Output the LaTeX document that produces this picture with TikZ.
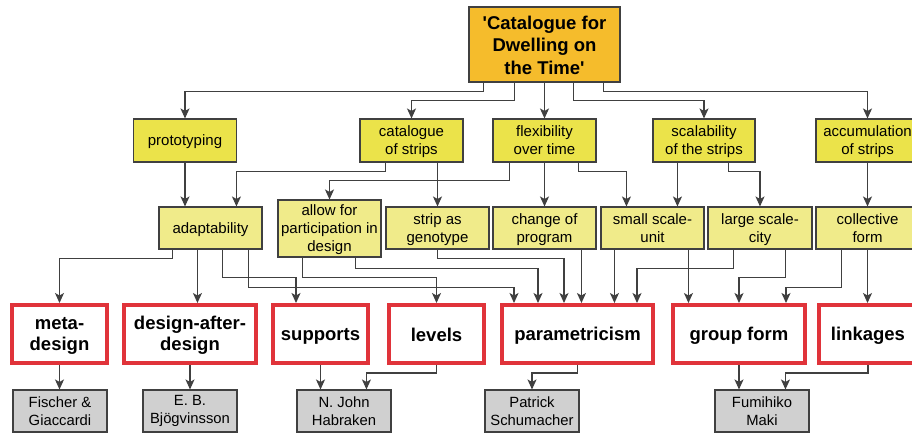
\documentclass[tikz,border=0pt]{standalone}
\usepackage{fontspec}
\setmainfont{Liberation Sans}[Ligatures=TeXOff]
\usetikzlibrary{arrows.meta}
\definecolor{rootfill}{HTML}{F5BC2C}
\definecolor{yelA}{HTML}{EBE34A}
\definecolor{yelB}{HTML}{F0EB8A}
\definecolor{redline}{HTML}{E0333A}
\definecolor{greyfill}{HTML}{D0D0D0}
\definecolor{edge}{HTML}{404040}
% fixed line metrics so that text sits in the box by font ascent/descent
\newcommand{\descdepth}{0.2em}
\newcommand{\ascstrut}{\rule{0pt}{0.905em}}
\newcommand{\descstrut}{\rule[-\descdepth]{0pt}{\descdepth}}
\begin{document}
\begin{tikzpicture}[x=1pt,y=-1pt,
  box/.style={draw=edge,line width=1.1pt,inner sep=0pt,align=center,anchor=center},
  rootbox/.style={box,fill=rootfill,minimum width=151pt,minimum height=75pt,
    font=\fontsize{18.5}{22.3}\selectfont\bfseries\renewcommand{\descdepth}{0.105em}},
  topic/.style={box,fill=yelA,minimum width=103pt,minimum height=43pt,
    font=\fontsize{15}{18}\selectfont},
  subtopic/.style={box,fill=yelB,minimum width=103pt,minimum height=42pt,
    font=\fontsize{15}{18}\selectfont},
  concept/.style={draw=redline,line width=4pt,fill=white,inner sep=0pt,align=center,
    minimum height=58pt,
    font=\fontsize{18.5}{21}\selectfont\bfseries\renewcommand{\descdepth}{0.105em}},
  author/.style={box,fill=greyfill,minimum width=94pt,minimum height=42pt,
    font=\fontsize{14.8}{17.7}\selectfont},
  arr/.style={draw=edge,line width=1.1pt,-{Stealth[length=10pt,width=9pt,inset=2.5pt]}}]
\useasboundingbox[fill=white] (0,0) rectangle (912,437);

% root
\node[rootbox] (root) at (544.5,44.5) {\ascstrut'Catalogue for\\Dwelling on\\the Time'\descstrut};

% first level
\node[topic] (proto) at (185,140.5) {\ascstrut prototyping\descstrut};
\node[topic] (cat)   at (411.5,140.5) {\ascstrut catalogue\\of strips\descstrut};
\node[topic] (flex)  at (544.5,140.5) {\ascstrut flexibility\\over time\descstrut};
\node[topic,minimum width=102pt] (scal) at (704,140.5) {\ascstrut scalability\\of the strips\descstrut};
\node[topic] (accum) at (867.5,140.5) {\ascstrut accumulation\\of strips\descstrut};

% second level
\node[subtopic] (adapt)  at (210.5,228) {\ascstrut adaptability\descstrut};
\node[subtopic,minimum height=57pt] (allow) at (329.5,228.5) {\ascstrut allow for\\participation in\\design\descstrut};
\node[subtopic] (strip)  at (437.5,228) {\ascstrut strip as\\genotype\descstrut};
\node[subtopic] (change) at (544.5,228) {\ascstrut change of\\program\descstrut};
\node[subtopic] (small)  at (652.5,228) {\ascstrut small scale-\\unit\descstrut};
\node[subtopic,minimum width=104pt] (large) at (760,228) {\ascstrut large scale-\\city\descstrut};
\node[subtopic] (coll)   at (867.5,228) {\ascstrut collective\\form\descstrut};

% concepts
\node[concept,minimum width=95pt]  (meta)   at (59.5,334)  {\ascstrut meta-\\design\descstrut};
\node[concept,minimum width=132pt] (dad)    at (190,334)   {\ascstrut design-after-\\design\descstrut};
\node[concept,minimum width=95pt]  (supp)   at (320.5,334) {\ascstrut supports\descstrut};
\node[concept,minimum width=95pt]  (levels) at (436.5,334) {\ascstrut levels\descstrut};
\node[concept,minimum width=151pt] (param)  at (577.5,334) {\ascstrut parametricism\descstrut};
\node[concept,minimum width=132pt] (group)  at (739,334)   {\ascstrut group form\descstrut};
\node[concept,minimum width=98pt]  (link)   at (868,334)   {\ascstrut linkages\descstrut};

% authors
\node[author] (fisch) at (60,411)  {Fischer \&\\Giaccardi};
\node[author] (bjog)  at (190,411) {E. B.\\Bjögvinsson};
\node[author] (habr)  at (344,411) {N. John\\Habraken};
\node[author] (patr)  at (532,411) {Patrick\\Schumacher};
\node[author] (maki)  at (762,411) {Fumihiko\\Maki};

% root to first level
\draw[arr] ([xshift=15pt]root.south west) -- ++(0,9) -| (proto.north);
\draw[arr] ([xshift=46pt]root.south west) -- ++(0,18) -| (cat.north);
\draw[arr] (root.south) -- (flex.north);
\draw[arr] ([xshift=105pt]root.south west) -- ++(0,18) -| (scal.north);
\draw[arr] ([xshift=135pt]root.south west) -- ++(0,9) -| (accum.north);

% first to second level
\draw[arr] (proto.south) -- (proto.south |- adapt.north);
\draw[arr] ([xshift=26pt]cat.south west) -- ++(0,9) -| ([xshift=78pt]adapt.north west);
\draw[arr] (cat.south -| strip.north) -- (strip.north);
\draw[arr] ([xshift=17pt]flex.south west) -- ++(0,18) -| (allow.north);
\draw[arr] (flex.south) -- (change.north);
\draw[arr] ([xshift=86pt]flex.south west) -- ++(0,9) -| ([xshift=26pt]small.north west);
\draw[arr] ([xshift=25pt]scal.south west) -- ([xshift=25pt]scal.south west |- small.north);
\draw[arr] ([xshift=76pt]scal.south west) -- ++(0,9) -| (large.north);
\draw[arr] (accum.south) -- (coll.north);

% second level to concepts
\draw[arr] ([xshift=14pt]adapt.south west) -- ++(0,9) -| (meta.north);
\draw[arr] ([xshift=39pt]adapt.south west) -- ([xshift=39pt]adapt.south west |- dad.north);
\draw[arr] ([xshift=64pt]adapt.south west) -- ++(0,28) -| ([xshift=25pt]supp.north west);
\draw[arr] ([xshift=90pt]adapt.south west) -- ++(0,38) -| ([xshift=14pt]param.north west);
\draw[arr] ([xshift=25pt]allow.south west) -- ++(0,20) -| (levels.north);
\draw[arr] ([xshift=78pt]allow.south west) -- ++(0,11) -| ([xshift=38pt]param.north west);
\draw[arr] (strip.south) -- ++(0,9) -| ([xshift=64pt]param.north west);
\draw[arr] ([xshift=89pt]change.south west) -- ([xshift=89pt]change.south west |- param.north);
\draw[arr] ([xshift=14pt]small.south west) -- ([xshift=14pt]small.south west |- param.north);
\draw[arr] ([xshift=88pt]small.south west) -- ([xshift=88pt]small.south west |- group.north);
\draw[arr] ([xshift=26pt]large.south west) -- ++(0,19) -| ([xshift=137pt]param.north west);
\draw[arr] ([xshift=78pt]large.south west) -- ++(0,28) -| (group.north);
\draw[arr] ([xshift=26pt]coll.south west) -- ++(0,38) -| ([xshift=115pt]group.north west);
\draw[arr] (coll.south) -- (coll.south |- link.north);

% concepts to authors
\draw[arr] (meta.south) -- (meta.south |- fisch.north);
\draw[arr] (dad.south) -- (bjog.north);
\draw[arr] (supp.south) -- (supp.south |- habr.north);
\draw[arr] (levels.south) -- ++(0,8) -| ([xshift=70pt]habr.north west);
\draw[arr] (param.south) -- ++(0,8) -| (patr.north);
\draw[arr] (group.south) -- (group.south |- maki.north);
\draw[arr] (link.south) -- ++(0,8) -| ([xshift=71pt]maki.north west);
\end{tikzpicture}
\end{document}
